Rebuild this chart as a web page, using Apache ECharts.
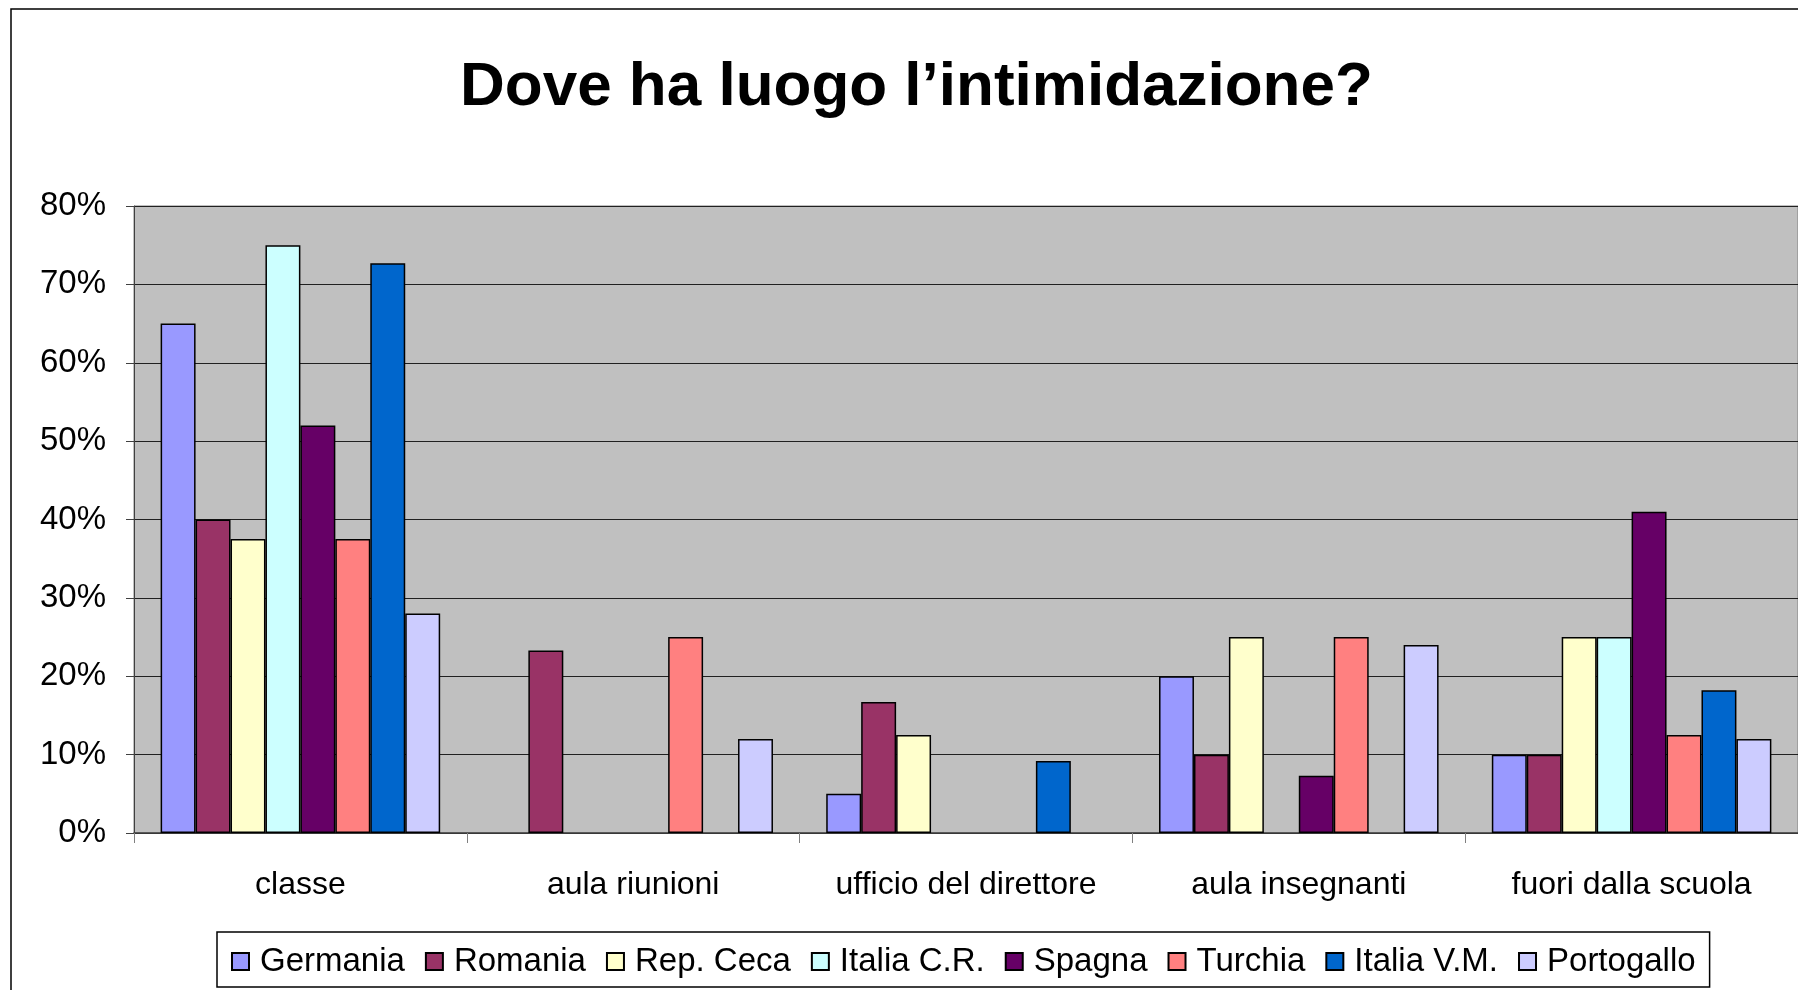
<!DOCTYPE html>
<html><head><meta charset="utf-8">
<script src="https://cdn.jsdelivr.net/npm/echarts@6/dist/echarts.min.js"></script>
<style>html,body{margin:0;padding:0;background:#fff}#c{width:1798px;height:990px}</style>
</head><body><div id="c"></div>
<script>
const categories = ['classe', 'aula riunioni', 'ufficio del direttore', 'aula insegnanti', 'fuori dalla scuola'];
const germania   = [65, 0, 5, 20, 10];
const romania    = [40, 23.3, 16.7, 10, 10];
const repCeca    = [37.5, 0, 12.5, 25, 25];
const italiaCR   = [75, 0, 0, 0, 25];
const spagna     = [52, 0, 0, 7.3, 41];
const turchia    = [37.5, 25, 0, 25, 12.5];
const italiaVM   = [72.7, 0, 9.2, 0, 18.2];
const portogallo = [28, 12, 0, 24, 12];
const yTicks = [0, 10, 20, 30, 40, 50, 60, 70, 80];

const seriesDefs = [
  ['Germania', germania, '#9999FF'],
  ['Romania', romania, '#993366'],
  ['Rep. Ceca', repCeca, '#FFFFCC'],
  ['Italia C.R.', italiaCR, '#CCFFFF'],
  ['Spagna', spagna, '#660066'],
  ['Turchia', turchia, '#FF8080'],
  ['Italia V.M.', italiaVM, '#0066CC'],
  ['Portogallo', portogallo, '#CCCCFF']
];
const font = 'Liberation Sans, Arial, sans-serif';
const chart = echarts.init(document.getElementById('c'), null, {renderer: 'canvas'});
chart.setOption({
  animation: false,
  textStyle: {fontFamily: font},
  title: {
    text: 'Dove ha luogo l\u2019intimidazione?',
    left: 455, top: 52,
    textStyle: {fontFamily: font, fontWeight: 'bold', fontSize: 62, color: '#000'}
  },
  graphic: [{
    type: 'rect', silent: true, z: -1,
    shape: {x: 11, y: 9, width: 1900, height: 1100},
    style: {fill: 'none', stroke: '#000', lineWidth: 1.5}
  }],
  legend: {
    left: 217, top: 932,
    padding: [13, 14, 9, 14],
    itemGap: 20, itemWidth: 17, itemHeight: 17,
    borderColor: '#000', borderWidth: 1.5, backgroundColor: '#fff',
    textStyle: {fontFamily: font, fontSize: 33, color: '#000', padding: [0, 0, 0, 6]},
    data: seriesDefs.map(d => ({name: d[0], icon: 'rect'}))
  },
  grid: {
    left: 134, right: 0, top: 206, bottom: 157,
    show: true, backgroundColor: '#C0C0C0', borderColor: '#808080', borderWidth: 1
  },
  xAxis: {
    type: 'category', data: categories,
    axisLine: {lineStyle: {color: '#404040', width: 1.5}},
    axisTick: {show: true, interval: 0, length: 10, lineStyle: {color: '#808080'}},
    axisLabel: {interval: 0, fontFamily: font, fontSize: 32, color: '#000', margin: 36}
  },
  yAxis: {
    type: 'value', min: 0, max: 80, interval: 10,
    axisLine: {show: true, lineStyle: {color: '#404040'}},
    axisTick: {show: true, length: 8, lineStyle: {color: '#404040'}},
    axisLabel: {fontFamily: font, fontSize: 33, color: '#000', margin: 28, formatter: '{value}%'},
    splitLine: {lineStyle: {color: '#202020', width: 1}}
  },
  series: seriesDefs.map(d => ({
    name: d[0], type: 'bar', data: d[1].map(v => v === 0 ? null : v),
    barGap: '0%', barCategoryGap: '16%',
    itemStyle: {color: d[2], borderColor: '#000', borderWidth: 1.5}
  }))
});
</script></body></html>
